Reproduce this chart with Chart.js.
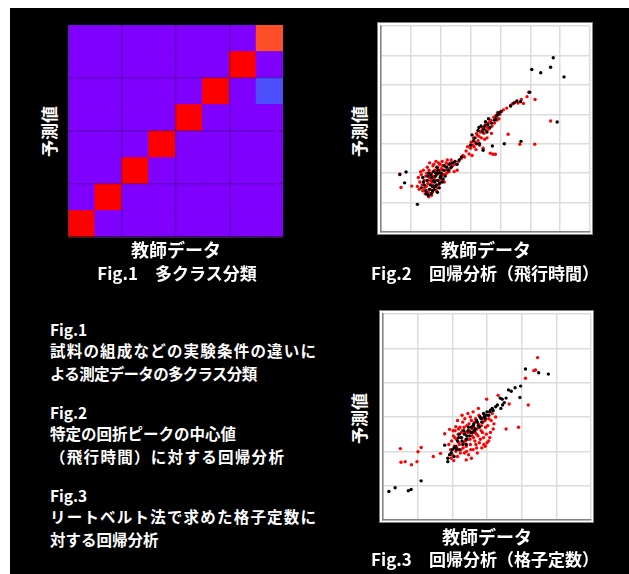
<!DOCTYPE html>
<html>
<head>
<meta charset="utf-8">
<script src="https://cdn.jsdelivr.net/npm/chart.js@4.4.0/dist/chart.umd.min.js"></script>
<style>
  body { margin: 0; background: #fff; width: 629px; height: 574px; overflow: hidden; }
  #panel { position: absolute; left: 10px; top: 8px; width: 619px; height: 566px; background: #000; }
  .box { position: absolute; }
  .white { background: #fff; border: 1.5px solid #808080; }
  .t { position: absolute; color: #fff; font-family: "Noto Sans CJK JP", "Noto Sans", sans-serif; font-weight: bold; white-space: nowrap; }
  .cap { font-size: 17px; text-align: center; width: 260px; }
  .axt { font-size: 18px; }
  .ylab { font-size: 17px; transform: rotate(-90deg); transform-origin: center; width: 80px; text-align: center; }
  .desc { font-size: 15.5px; left: 50px; }
</style>
</head>
<body>
<div id="panel"></div>

<div class="box" style="left:67px;top:24px;width:217px;height:214px"><canvas id="fig1" width="217" height="214"></canvas></div>
<div class="box white" style="left:377px;top:22px;width:214px;height:211px"></div>
<div class="box" style="left:377px;top:22px;width:217px;height:214px"><canvas id="fig2" width="217" height="214"></canvas></div>
<div class="box white" style="left:379px;top:310px;width:213px;height:211px"></div>
<div class="box" style="left:379px;top:310px;width:216px;height:214px"><canvas id="fig3" width="216" height="214"></canvas></div>

<div class="t ylab" style="left:8px;top:119px">予測値</div>
<div class="t cap axt" style="left:46px;top:236px">教師データ</div>
<div class="t cap" style="left:47px;top:260px">Fig.1　多クラス分類</div>

<div class="t ylab" style="left:318px;top:119px">予測値</div>
<div class="t cap axt" style="left:356px;top:236px">教師データ</div>
<div class="t cap" style="left:355px;top:260px">Fig.2　回帰分析（飛行時間）</div>

<div class="t ylab" style="left:318px;top:406px">予測値</div>
<div class="t cap axt" style="left:357px;top:523px">教師データ</div>
<div class="t cap" style="left:355px;top:546px">Fig.3　回帰分析（格子定数）</div>

<div class="t desc" style="top:318px">Fig.1</div>
<div class="t desc" style="top:339px;letter-spacing:1.2px">試料の組成などの実験条件の違いに</div>
<div class="t desc" style="top:362px;letter-spacing:-0.7px">よる測定データの多クラス分類</div>
<div class="t desc" style="top:401px">Fig.2</div>
<div class="t desc" style="top:422px">特定の回折ピークの中心値</div>
<div class="t desc" style="top:445px;letter-spacing:1.3px">（飛行時間）に対する回帰分析</div>
<div class="t desc" style="top:484px">Fig.3</div>
<div class="t desc" style="top:505px;letter-spacing:1.2px">リートベルト法で求めた格子定数に</div>
<div class="t desc" style="top:528px">対する回帰分析</div>

<script>
// Fig.1 confusion matrix: rows = true class, columns = predicted class
const classes = ['1', '2', '3', '4', '5', '6', '7', '8'];
const confusion = [
  [1, 0, 0, 0, 0, 0, 0, 0],
  [0, 1, 0, 0, 0, 0, 0, 0],
  [0, 0, 1, 0, 0, 0, 0, 0],
  [0, 0, 0, 1, 0, 0, 0, 0],
  [0, 0, 0, 0, 1, 0, 0, 0],
  [0, 0, 0, 0, 0, 1, 0, 0],
  [0, 0, 0, 0, 0, 0, 1, 0],
  [0, 0, 0, 0, 0, 0.1, 0, 0.9]
];

// Fig.2 regression (time of flight): [teacher, predicted]
const tofRed = [
  [0.63,1.97],[0.67,1.51],[1.03,1.56],[1.22,1.55],[1.25,1.85],[1.30,1.70],[1.35,1.95],[1.38,1.60],[1.40,1.40],[1.42,2.10],
  [1.45,1.75],[1.48,1.30],[1.50,1.90],[1.52,1.55],[1.55,2.20],[1.57,1.65],[1.60,1.20],[1.62,1.85],[1.63,2.35],[1.65,1.45],
  [1.68,2.00],[1.70,1.70],[1.72,1.35],[1.74,2.25],[1.75,1.90],[1.78,1.55],[1.80,2.10],[1.82,1.75],[1.84,2.40],[1.85,1.40],
  [1.88,1.95],[1.90,2.20],[1.92,1.60],[1.95,2.05],[1.97,2.30],[2.00,1.80],[2.02,2.15],[2.05,2.40],[2.08,1.95],[2.10,2.25],
  [2.12,1.70],[2.15,2.10],[2.18,2.35],[2.20,2.00],[2.25,2.30],[2.30,2.15],[2.35,2.45],[2.40,2.25],[2.45,2.05],[2.55,2.10],
  [2.60,2.40],[2.75,2.60],[2.85,2.75],[2.95,2.65],[3.00,2.85],[3.05,2.60],[3.08,2.95],[3.10,3.20],[3.15,3.05],[3.18,2.80],
  [3.22,3.30],[3.25,3.10],[3.30,2.95],[3.32,3.40],[3.36,3.20],[3.40,3.55],[3.42,2.85],[3.45,3.35],[3.50,3.65],[3.52,3.45],
  [3.55,3.20],[3.58,3.70],[3.62,3.50],[3.66,2.68],[3.68,3.80],[3.72,3.60],[3.75,2.64],[3.78,3.90],[3.80,3.70],[3.83,2.64],
  [3.85,3.95],[3.90,4.05],[3.95,3.85],[4.02,4.10],[4.21,4.21],[4.26,3.32],[4.34,4.30],[4.40,4.35],[4.59,4.38],[4.65,2.98],
  [4.77,4.37],[4.89,4.60],[4.95,4.75],[5.16,4.50],[5.15,2.98],[5.68,3.77],
  [1.28,1.45],[1.33,2.05],[1.46,1.50],[1.53,2.00],[1.58,1.35],[1.61,2.10],[1.66,1.75],[1.69,1.25],[1.73,1.60],[1.77,2.30],
  [1.79,1.85],[1.86,2.05],[1.89,1.50],[1.93,2.35],[1.96,1.70],[1.99,2.10],[2.03,1.90],[2.07,2.25],[2.14,1.95],[2.22,2.45],
  [2.28,2.05],[2.33,2.35],[2.48,2.30],[2.68,2.50],[2.80,2.55],[2.90,2.90],[3.02,3.05],[3.12,2.90],[3.20,3.35],[3.28,3.25],
  [3.38,3.45],[3.47,3.15],[3.57,3.55],[3.65,3.75],[3.70,3.35],[3.88,3.80],[3.98,4.00],[4.10,4.15],[4.48,4.40],[4.70,4.50]
];
const tofBlack = [
  [0.63,1.95],[0.84,2.04],[0.79,1.67],[1.22,0.94],[1.35,1.50],[1.40,1.85],[1.45,1.60],[1.50,1.40],[1.55,1.75],[1.58,1.25],
  [1.60,2.00],[1.65,1.60],[1.68,1.30],[1.70,1.85],[1.72,1.55],[1.75,2.05],[1.78,1.45],[1.80,1.70],[1.83,1.90],[1.85,1.60],
  [1.87,2.20],[1.90,1.75],[1.93,2.00],[1.95,1.50],[1.98,1.85],[2.02,2.00],[2.05,1.70],[2.10,2.10],[2.15,1.90],[2.20,2.20],
  [2.30,2.30],[2.40,2.35],[2.55,2.30],[2.62,2.45],[3.00,2.95],[3.05,3.30],[3.15,3.20],[3.25,3.45],[3.30,3.00],[3.35,3.60],
  [3.42,2.78],[3.45,3.50],[3.50,3.75],[3.55,3.40],[3.60,3.85],[3.65,3.55],[3.73,2.92],[3.80,3.80],[3.88,3.95],[3.95,4.05],
  [4.02,4.09],[4.13,3.00],[4.34,4.28],[4.55,4.45],[4.67,4.43],[4.69,3.08],[4.98,4.75],[5.05,5.52],[5.35,5.41],[5.68,5.60],
  [5.77,5.92],[6.13,5.27],[5.90,3.74],
  [1.42,1.70],[1.52,1.30],[1.57,1.90],[1.62,1.45],[1.67,1.95],[1.73,1.40],[1.76,1.75],[1.81,1.55],[1.84,2.00],[1.89,1.35],
  [1.91,2.10],[1.96,1.65],[2.00,1.90],[2.08,1.80],[2.12,2.25],[2.25,2.10],[2.35,2.20],[2.48,2.40],[2.70,2.55],[3.10,3.10],
  [3.20,3.00],[3.28,3.55],[3.40,3.40],[3.48,3.60],[3.58,3.65],[3.70,3.70],[3.85,3.85],[3.92,4.00],[4.45,4.38]
];

// Fig.3 regression (lattice constant): [teacher, predicted]
const latRed = [
  [0.50,2.08],[0.52,1.68],[0.64,1.70],[0.82,1.61],[0.98,1.70],[1.01,1.99],[1.10,2.11],[1.45,1.85],[1.66,1.94],[1.78,2.51],
  [1.92,2.64],[2.10,2.72],[2.04,1.73],[4.46,4.73],[4.35,4.35],[4.40,4.37],[4.11,4.13],[4.19,3.35],[3.91,2.70],[3.55,2.65],
  [3.32,3.63],[2.99,3.52],[3.64,3.38],
  [1.95,2.05],[1.98,2.30],[2.00,1.90],[2.03,2.45],[2.06,2.15],[2.08,2.60],[2.10,2.00],[2.12,2.35],[2.15,1.85],[2.17,2.50],
  [2.20,2.20],[2.22,2.70],[2.25,2.05],[2.27,2.40],[2.30,2.85],[2.32,2.25],[2.35,1.95],[2.37,2.55],[2.40,2.15],[2.42,2.75],
  [2.45,2.35],[2.47,1.90],[2.50,2.60],[2.52,2.20],[2.55,2.90],[2.57,2.45],[2.60,2.05],[2.62,2.70],[2.65,2.30],[2.67,2.95],
  [2.70,2.50],[2.72,1.95],[2.75,2.80],[2.78,2.25],[2.80,3.00],[2.83,2.60],[2.85,2.10],[2.88,2.85],[2.90,2.40],[2.93,3.05],
  [2.96,2.70],[3.00,2.25],[3.05,2.95],[3.10,2.55],[3.15,3.10],[3.20,2.80],[2.28,3.05],[2.15,2.90],[2.45,3.10],[2.60,3.15],
  [2.75,3.25],[2.40,1.75],[2.55,1.80],[2.70,2.10],[2.95,2.15],[3.05,2.30],
  [1.90,2.20],[1.97,1.80],[2.02,2.60],[2.07,2.40],[2.13,2.10],[2.18,2.65],[2.23,1.95],[2.26,2.55],[2.31,2.10],[2.34,2.70],
  [2.38,2.30],[2.41,2.00],[2.44,2.55],[2.48,2.80],[2.51,2.35],[2.53,2.05],[2.58,2.65],[2.61,2.40],[2.64,2.85],[2.68,2.20],
  [2.71,2.65],[2.74,2.45],[2.77,3.05],[2.81,2.35],[2.84,2.75],[2.87,2.55],[2.91,2.20],[2.94,2.90],[2.98,2.50],[3.02,2.75],
  [3.08,2.40],[3.12,2.90],[3.18,2.65],[3.25,3.00],[2.36,2.95],[2.52,3.00],[2.19,2.25],[2.29,2.60],[2.66,2.55],[2.86,2.95]
];
const latBlack = [
  [0.17,0.83],[0.35,0.94],[0.73,0.85],[0.81,0.89],[1.10,1.14],[1.78,2.18],[1.87,1.80],[1.92,1.90],[1.87,1.70],[1.97,1.96],
  [2.00,2.05],[2.05,1.85],[2.10,2.15],[2.15,2.30],[2.20,2.05],[2.25,2.40],[2.30,2.20],[2.35,2.50],[2.40,2.35],[2.45,2.60],
  [2.50,2.45],[2.55,2.70],[2.58,2.55],[2.62,2.80],[2.66,2.65],[2.70,2.90],[2.75,2.75],[2.80,3.00],[2.85,2.85],[2.90,3.10],
  [2.95,2.95],[3.00,3.15],[3.05,3.05],[3.10,3.20],[3.18,3.19],[3.25,3.30],[3.40,3.25],[3.45,3.35],[3.50,3.42],[3.44,3.52],
  [3.38,3.55],[3.62,3.79],[3.81,3.85],[3.97,3.90],[3.95,3.57],[4.11,4.40],[4.49,4.29],[4.77,4.25],[2.20,2.50],[2.40,2.20],
  [2.12,2.05],[2.18,2.40],[2.28,2.30],[2.33,2.60],[2.42,2.45],[2.47,2.70],[2.53,2.55],[2.60,2.75],[2.64,2.60],[2.72,2.85],
  [2.78,2.70],[2.83,2.95],[2.92,3.00],[2.98,3.05],[3.08,3.15],[3.15,3.25],[3.30,3.35],[3.55,3.55],[3.70,3.75],[2.05,2.10]
];

// matplotlib "rainbow" colormap
function rainbow(v) {
  const clip = x => Math.max(0, Math.min(1, x));
  const r = clip(Math.abs(2 * v - 0.5));
  const g = clip(Math.sin(Math.PI * v));
  const b = clip(Math.cos(Math.PI * v / 2));
  return `rgb(${Math.round(r * 255)},${Math.round(g * 255)},${Math.round(b * 255)})`;
}

const lineDark = 'rgba(0,0,0,0.22)';
const none = 'rgba(0,0,0,0)';
// x: category boundaries 0..8, keep every second inner one
const gridX = ctx => (ctx.index > 0 && ctx.index < 8 && ctx.index % 2 === 0) ? lineDark : none;
// y: ticks 0,2,4,6,8, keep the inner ones
const gridY = ctx => (ctx.index > 0 && ctx.index < 4) ? lineDark : none;

// one stacked dataset per predicted class (row), one bar per true class (column)
const heatSets = classes.map((c, p) => ({
  label: c,
  data: classes.map(() => 1),
  backgroundColor: classes.map((t, ti) => rainbow(confusion[ti][p])),
  borderWidth: 0,
  categoryPercentage: 1,
  barPercentage: 1
}));

new Chart(document.getElementById('fig1'), {
  type: 'bar',
  data: { labels: classes, datasets: heatSets },
  options: {
    responsive: false,
    animation: false,
    layout: { padding: 1 },
    plugins: { legend: { display: false }, tooltip: { enabled: false } },
    scales: {
      x: {
        stacked: true,
        z: 1,
        ticks: { display: false },
        grid: { color: gridX, lineWidth: 1.5, drawTicks: false, z: 1 },
        border: { color: 'rgba(60,60,60,0.6)', z: 2 }
      },
      y: {
        stacked: true,
        min: 0, max: 8,
        z: 1,
        ticks: { display: false, stepSize: 2 },
        grid: { color: gridY, lineWidth: 1.5, drawTicks: false, z: 1 },
        border: { color: 'rgba(60,60,60,0.6)', z: 2 }
      }
    }
  }
});

function scatterChart(id, black, red, max) {
  const toPts = arr => arr.map(([x, y]) => ({ x, y }));
  const axis = {
    min: 0, max: max,
    ticks: { display: false, stepSize: 1 },
    grid: { color: '#dcdcdc', lineWidth: 1.5, drawTicks: false },
    border: { color: '#808080', width: 1.5 }
  };
  new Chart(document.getElementById(id), {
    type: 'scatter',
    data: {
      datasets: [
        { data: toPts(black), backgroundColor: '#000', pointRadius: 1.7, borderWidth: 0 },
        { data: toPts(red), backgroundColor: '#ff0000', pointRadius: 1.7, borderWidth: 0 }
      ]
    },
    options: {
      responsive: false,
      animation: false,
      layout: { padding: 1 },
      plugins: { legend: { display: false }, tooltip: { enabled: false } },
      scales: { x: { ...axis }, y: { ...axis } }
    }
  });
}

scatterChart('fig2', tofBlack, tofRed, 7);
scatterChart('fig3', latBlack, latRed, 6);
</script>
</body>
</html>
